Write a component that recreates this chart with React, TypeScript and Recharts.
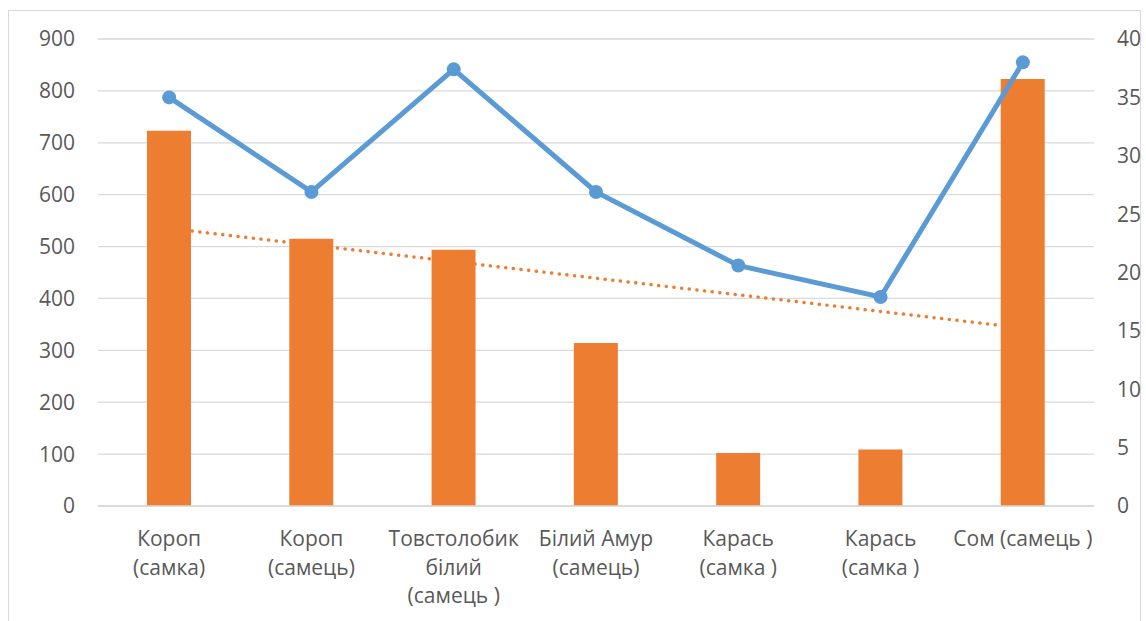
import React from 'react';
import { ComposedChart, Bar, Line, XAxis, YAxis, CartesianGrid } from 'recharts';

const categoryLines: string[][] = [
  ['Короп', '(самка)'],
  ['Короп', '(самець)'],
  ['Товстолобик', 'білий', '(самець )'],
  ['Білий Амур', '(самець)'],
  ['Карась', '(самка )'],
  ['Карась', '(самка )'],
  ['Сом (самець )'],
];
const categories: string[] = categoryLines.map((l) => l.join(' '));
const barValues: number[] = [723, 515, 494, 314, 102, 109, 823];
const lineValues: number[] = [35, 26.9, 37.4, 26.9, 20.6, 17.9, 38];
const trendValues: number[] = [535, 503, 471, 439, 407, 375, 343];
const leftTicks: number[] = [0, 100, 200, 300, 400, 500, 600, 700, 800, 900];
const rightTicks: number[] = [0, 5, 10, 15, 20, 25, 30, 35, 40];

const data = categories.map((c, i) => ({
  name: c,
  idx: i,
  bar: barValues[i],
  line: lineValues[i],
  trend: trendValues[i],
}));

const FONT = '"Open Sans", sans-serif';
const TEXT = '#595959';

const CatTick = (props: any) => {
  const { x, y, payload } = props;
  const lines = categoryLines[payload.index] ?? [String(payload.value)];
  return (
    <text x={x} y={y} textAnchor="middle" fill={TEXT} fontSize={21} fontFamily={FONT}>
      {lines.map((l, i) => (
        <tspan key={i} x={x} y={y + 40 + i * 28.7}>
          {l}
        </tspan>
      ))}
    </text>
  );
};

export default function App() {
  return (
    <div style={{ position: 'absolute', left: 0, top: 0, width: 1146, height: 621, overflow: 'hidden', background: '#fff' }}>
      <div
        style={{
          position: 'absolute',
          left: 8,
          top: 10,
          width: 1133,
          height: 700,
          border: '1.5px solid #d9d9d9',
          boxSizing: 'border-box',
        }}
      />
      <div style={{ position: 'absolute', left: 0, top: 0 }}>
        <ComposedChart width={1146} height={621} data={data} margin={{ top: 39, right: 0, bottom: 0, left: 0 }}>
          <CartesianGrid vertical={false} stroke="#d9d9d9" strokeWidth={1.3} yAxisId="left" />
          <XAxis
            dataKey="name"
            height={115}
            tick={<CatTick />}
            tickLine={false}
            axisLine={{ stroke: '#d9d9d9', strokeWidth: 1.3 }}
            tickSize={0}
            tickMargin={0}
            interval={0}
          />
          <YAxis
            yAxisId="left"
            orientation="left"
            width={98}
            domain={[0, 900]}
            ticks={leftTicks}
            axisLine={false}
            tickLine={false}
            tickSize={0}
            tickMargin={23}
            tick={{ fill: TEXT, fontSize: 21, fontFamily: FONT }}
          />
          <YAxis
            yAxisId="right"
            orientation="right"
            width={52}
            domain={[0, 40]}
            ticks={rightTicks}
            axisLine={false}
            tickLine={false}
            tickSize={0}
            tickMargin={23}
            tick={{ fill: TEXT, fontSize: 21, fontFamily: FONT, textAnchor: 'start' }}
          />
          <Line
            yAxisId="left"
            dataKey="trend"
            stroke="#ed7d31"
            strokeWidth={3.5}
            strokeDasharray="0.1 7.6"
            strokeLinecap="round"
            dot={false}
            activeDot={false}
            isAnimationActive={false}
            type="linear"
          />
          <Bar yAxisId="left" dataKey="bar" fill="#ed7d31" barSize={44} isAnimationActive={false} />
          <Line
            yAxisId="right"
            dataKey="line"
            stroke="#5b9bd5"
            strokeWidth={5}
            dot={{ r: 7, fill: '#5b9bd5', stroke: 'none' }}
            activeDot={false}
            isAnimationActive={false}
            type="linear"
          />
        </ComposedChart>
      </div>
    </div>
  );
}
